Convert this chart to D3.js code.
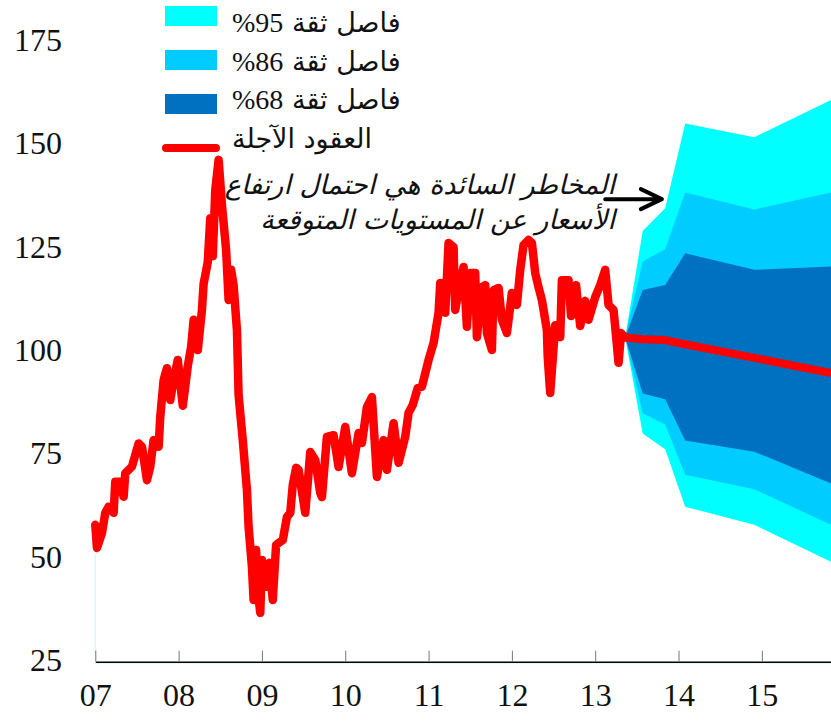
<!DOCTYPE html>
<html>
<head>
<meta charset="utf-8">
<script src="https://cdn.jsdelivr.net/npm/d3@7"></script>
<style>
  body { margin: 0; background: #fff; }
  svg { display: block; }
</style>
</head>
<body>
<script>
// historical oil futures price (decimal year, value)
var histYears = [7.00, 7.02, 7.08, 7.12, 7.16, 7.22, 7.24, 7.30, 7.34, 7.36, 7.44, 7.52, 7.56, 7.62, 7.66, 7.70, 7.76, 7.78, 7.82, 7.86,
  7.90, 7.94, 7.99, 8.05, 8.11, 8.15, 8.18, 8.23, 8.28, 8.30, 8.35, 8.38, 8.41, 8.44, 8.48, 8.52, 8.57, 8.60, 8.63, 8.66,
  8.70, 8.72, 8.77, 8.82, 8.84, 8.88, 8.90, 8.93, 8.95, 8.98, 9.00, 9.02, 9.05, 9.09, 9.13, 9.17, 9.20, 9.25, 9.30, 9.34,
  9.37, 9.41, 9.44, 9.52, 9.58, 9.64, 9.70, 9.72, 9.78, 9.86, 9.92, 10.00, 10.08, 10.16, 10.20, 10.26, 10.32, 10.38, 10.46, 10.50,
  10.58, 10.64, 10.72, 10.76, 10.81, 10.87, 10.92, 11.00, 11.06, 11.12, 11.14, 11.20, 11.24, 11.30, 11.32, 11.36, 11.42, 11.46, 11.50, 11.56,
  11.58, 11.64, 11.68, 11.70, 11.76, 11.78, 11.84, 11.88, 11.94, 12.00, 12.06, 12.10, 12.14, 12.20, 12.24, 12.28, 12.32, 12.36, 12.42, 12.43,
  12.46, 12.52, 12.58, 12.60, 12.68, 12.71, 12.77, 12.82, 12.88, 12.92, 13.00, 13.06, 13.12, 13.16, 13.22, 13.24, 13.28, 13.31, 13.36];
var histValues = [57.7, 52.1, 55.7, 60.6, 62.1, 60.6, 68.1, 68.1, 64.5, 70.2, 71.8, 77.4, 76.6, 68.5, 71.8, 78.2, 76.6, 83.9, 92.7, 95.6,
  87.9, 92.7, 97.6, 86.5, 96.1, 100.7, 107.3, 100.0, 109.7, 116.0, 121.3, 131.9, 122.7, 138.7, 146.0, 135.1, 124.2, 112.1, 119.4, 115.7,
  104.8, 89.1, 78.2, 66.1, 57.2, 47.5, 39.5, 51.6, 41.9, 36.4, 49.2, 46.8, 42.7, 48.5, 39.5, 52.8, 53.3, 54.0, 59.6, 60.6,
  67.3, 71.5, 71.0, 60.6, 75.3, 73.4, 65.4, 64.4, 79.0, 79.4, 71.7, 81.4, 70.2, 79.9, 77.5, 86.2, 88.6, 69.3, 78.2, 71.0,
  82.3, 72.7, 79.0, 84.8, 86.7, 90.8, 91.1, 97.6, 101.7, 109.0, 116.2, 109.0, 125.9, 124.9, 109.7, 114.5, 120.1, 105.6, 118.6, 118.6,
  103.1, 115.2, 115.7, 104.1, 100.0, 114.5, 115.0, 107.3, 104.1, 113.8, 110.9, 119.4, 125.4, 126.6, 125.9, 118.6, 115.2, 112.1, 104.8, 98.3,
  89.6, 106.0, 103.1, 116.9, 116.9, 108.2, 115.7, 105.8, 111.9, 107.3, 112.8, 115.7, 119.4, 110.9, 109.7, 105.6, 96.9, 104.1, 103.0];

// fan chart (forecast)
var fanYears = [13.36, 13.57, 13.84, 14.08, 14.91, 15.83];
var upper95 = [103, 128.8, 134.3, 154.8, 151.5, 160.5];
var upper86 = [103, 121.4, 124.4, 138.1, 134.0, 138.1];
var upper68 = [103, 114.5, 115.7, 123.4, 119.4, 120.2];
var lower68 = [103, 89.5, 88.1, 78.1, 75.4, 67.7];
var lower86 = [103, 84.7, 82.0, 69.8, 66.3, 57.7];
var lower95 = [103, 79.8, 76.0, 62.1, 57.7, 48.8];
var futures = [103, 102.6, 102.4, 101.4, 98.1, 94.4];

var xTicks = [7, 8, 9, 10, 11, 12, 13, 14, 15];
var yTicks = [25, 50, 75, 100, 125, 150, 175];
var legendNames = ['فاصل ثقة ', 'فاصل ثقة ', 'فاصل ثقة ', 'العقود الآجلة'];
var legendLevels = ['95%', '86%', '68%', ''];
var noteLines = ['المخاطر السائدة هي احتمال ارتفاع', 'الأسعار عن المستويات المتوقعة'];

var w = 831;
var h = 722;
var colours = ['#00ffff', '#00ccff', '#0070c0'];
var red = '#ff0000';
var serif = '"Liberation Serif", "Times New Roman", serif';
var arabic = '"DejaVu Sans", sans-serif';

var xScale = d3.scaleLinear().domain([7, 15.83]).range([95.3, 831]);
var yScale = d3.scaleLinear().domain([25, 175]).range([660, 40]);

var svg = d3.select('body').append('svg')
  .attr('width', w)
  .attr('height', h);

// fan bands, widest first
var bands = [
  {lo: lower95, hi: upper95, c: colours[0]},
  {lo: lower86, hi: upper86, c: colours[1]},
  {lo: lower68, hi: upper68, c: colours[2]}
];
var area = d3.area()
  .x(function(d){ return xScale(d.t); })
  .y0(function(d){ return yScale(d.lo); })
  .y1(function(d){ return yScale(d.hi); });

bands.forEach(function(b){
  var pts = fanYears.map(function(t, i){ return {t: t, lo: b.lo[i], hi: b.hi[i]}; });
  svg.append('path')
    .datum(pts)
    .attr('d', area)
    .attr('fill', b.c);
});

// faint left edge line
svg.append('line')
  .attr('x1', xScale(7)).attr('x2', xScale(7))
  .attr('y1', yScale(50.5)).attr('y2', yScale(25))
  .attr('stroke', '#c8f4f8').attr('stroke-width', 1);

var line = d3.line()
  .x(function(d){ return xScale(d[0]); })
  .y(function(d){ return yScale(d[1]); });

svg.append('path')
  .datum(histYears.map(function(t, i){ return [t, histValues[i]]; }))
  .attr('d', line)
  .attr('fill', 'none')
  .attr('stroke', red)
  .attr('stroke-width', 8.5)
  .attr('stroke-linejoin', 'round')
  .attr('stroke-linecap', 'round');

svg.append('path')
  .datum(fanYears.map(function(t, i){ return [t, futures[i]]; }))
  .attr('d', line)
  .attr('fill', 'none')
  .attr('stroke', red)
  .attr('stroke-width', 8)
  .attr('stroke-linejoin', 'round');

// x axis
svg.append('line')
  .attr('x1', 95).attr('x2', w)
  .attr('y1', 663).attr('y2', 663)
  .attr('stroke', '#c8f4f8').attr('stroke-width', 1);

var xAxis = d3.axisBottom(xScale)
  .tickValues(xTicks)
  .tickSizeInner(-11)
  .tickSizeOuter(0)
  .tickPadding(22)
  .tickFormat(d3.format('02d'));

var gx = svg.append('g')
  .attr('transform', 'translate(0,' + 661.7 + ')')
  .call(xAxis);
gx.select('.domain').attr('stroke', '#000').attr('stroke-width', 1.4);
gx.selectAll('.tick line').attr('stroke', '#777');
gx.selectAll('.tick text')
  .attr('font-family', serif)
  .attr('font-size', '32px')
  .attr('fill', '#111')
  .attr('dy', '0.71em');

// y labels (no axis line)
svg.selectAll('.ylab')
  .data(yTicks)
  .enter()
  .append('text')
  .attr('class', 'ylab')
  .attr('x', 62)
  .attr('y', function(d){ return yScale(d); })
  .attr('dy', '0.34em')
  .attr('text-anchor', 'end')
  .attr('font-family', serif)
  .attr('font-size', '32px')
  .attr('fill', '#111')
  .text(function(d){ return d; });

// legend
var legend = svg.append('g');
colours.forEach(function(c, i){
  legend.append('rect')
    .attr('x', 165).attr('y', 6 + i * 44)
    .attr('width', 52).attr('height', 20)
    .attr('fill', c);
});
legend.append('line')
  .attr('x1', 166).attr('x2', 216)
  .attr('y1', 148).attr('y2', 148)
  .attr('stroke', red).attr('stroke-width', 8)
  .attr('stroke-linecap', 'round');

var lt = legend.selectAll('text')
  .data(legendNames)
  .enter()
  .append('text')
  .attr('x', 232)
  .attr('y', function(d, i){ return 32 + i * 38.5; })
  .attr('direction', 'rtl')
  .attr('text-anchor', 'end')
  .attr('fill', '#111');
lt.append('tspan')
  .attr('font-family', arabic)
  .attr('font-size', '27px')
  .text(function(d){ return d; });
lt.append('tspan')
  .attr('font-family', serif)
  .attr('font-size', '28px')
  .text(function(d, i){ return legendLevels[i]; });

// annotation
svg.selectAll('.note')
  .data(noteLines)
  .enter()
  .append('text')
  .attr('class', 'note')
  .attr('x', 615)
  .attr('y', function(d, i){ return 194 + i * 35; })
  .attr('direction', 'rtl')
  .attr('text-anchor', 'start')
  .attr('font-family', arabic)
  .attr('font-style', 'italic')
  .attr('font-size', '27px')
  .attr('fill', '#111')
  .text(function(d){ return d; });

var ax0 = xScale(13.12), ax1 = xScale(13.80), ay = yScale(136.5);
svg.append('path')
  .attr('d', 'M' + ax0 + ',' + ay + 'H' + ax1 +
    'M' + (ax1 - 21) + ',' + (ay - 10) + 'L' + ax1 + ',' + ay + 'L' + (ax1 - 21) + ',' + (ay + 10))
  .attr('fill', 'none')
  .attr('stroke', '#000')
  .attr('stroke-width', 4)
  .attr('stroke-linecap', 'round')
  .attr('stroke-linejoin', 'round');
</script>
</body>
</html>
